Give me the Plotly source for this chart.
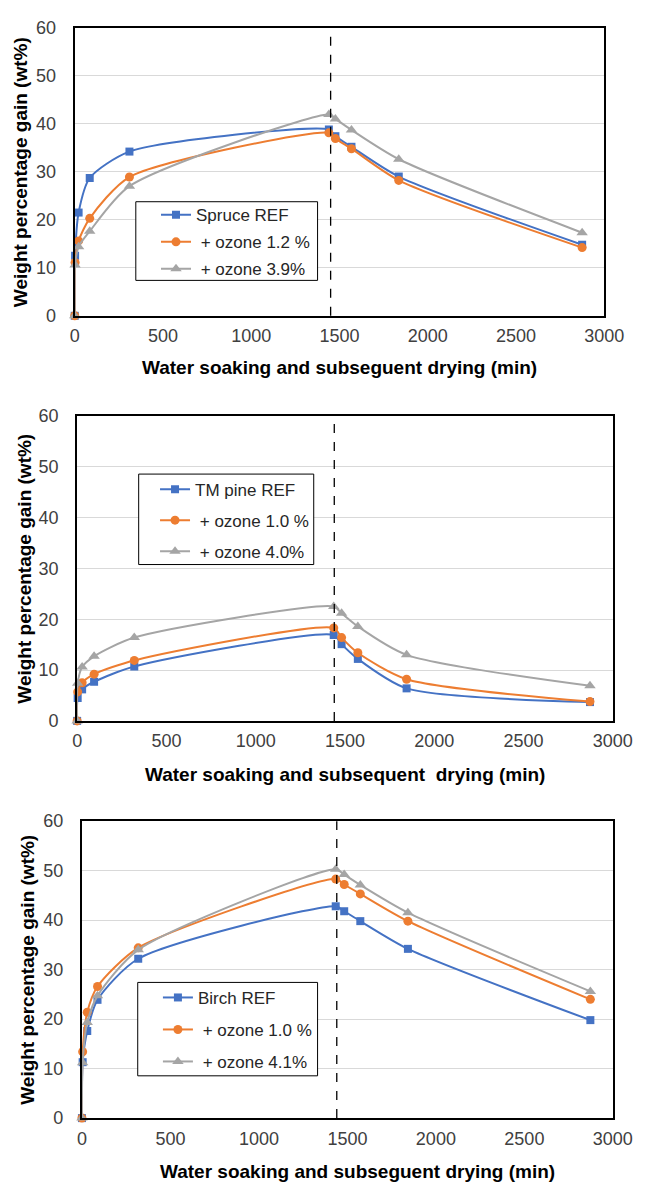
import plotly.graph_objects as go

W, H = 654, 1193

# ---------------- data ----------------
t_spruce = [0, 2, 22, 85, 310, 1440, 1477, 1568, 1836, 2875]
spruce_ref = [0, 12.5, 21.5, 28.7, 34.2, 38.8, 37.4, 35.2, 29.0, 14.8]
spruce_oz12 = [0, 11.1, 15.6, 20.3, 28.9, 38.1, 36.9, 34.8, 28.2, 14.2]
spruce_oz39 = [0, 10.6, 14.4, 17.6, 27.0, 41.9, 41.0, 38.7, 32.6, 17.3]

t_pine = [0, 3, 28, 95, 320, 1437, 1481, 1572, 1845, 2872]
pine_ref = [0, 4.5, 6.2, 7.7, 10.7, 16.9, 15.1, 12.2, 6.4, 3.7]
pine_oz10 = [0, 5.7, 7.5, 9.2, 11.9, 18.3, 16.4, 13.4, 8.2, 3.8]
pine_oz40 = [0, 7.4, 10.6, 12.7, 16.4, 22.5, 21.2, 18.6, 13.0, 6.9]

t_birch = [0, 4, 30, 88, 318, 1434, 1482, 1573, 1842, 2873]
birch_ref = [0, 11.3, 17.6, 23.9, 32.2, 42.8, 41.8, 39.8, 34.2, 19.8]
birch_oz10 = [0, 13.4, 21.4, 26.6, 34.4, 48.3, 47.2, 45.3, 39.8, 24.0]
birch_oz41 = [0, 11.2, 19.3, 24.7, 34.0, 50.3, 49.2, 47.1, 41.5, 25.6]

names_spruce = ["Spruce REF", "\u00a0+ ozone 1.2 %", "\u00a0+ ozone 3.9%"]
names_pine = ["TM pine REF", "\u00a0+ ozone 1.0 %", "\u00a0+ ozone 4.0%"]
names_birch = ["Birch REF", "\u00a0+ ozone 1.0 %", "\u00a0+ ozone 4.1%"]

x_titles = ["Water soaking and subseguent drying (min)",
            "Water soaking and subsequent\u00a0 drying (min)",
            "Water soaking and subseguent drying (min)"]
y_title = "Weight percentage gain (wt%)"
soak_end = [1450, 1440, 1440]

x_ticks = [0, 500, 1000, 1500, 2000, 2500, 3000]
y_ticks = [0, 10, 20, 30, 40, 50, 60]

# ---------------- style ----------------
colors = ["#4472C4", "#ED7D31", "#A5A5A5"]
symbols = ["square", "circle", "triangle-up"]
msizes = [8, 9, 10]
FONT = "Liberation Sans, Arial, sans-serif"
TXT = "#404040"

# panel boxes in pixels: (left, right, top, bottom)
boxes = [(72.5, 623, 18, 311), (75, 632, 413, 723), (80, 632, 825, 1127)]
# legend frame boxes (left, right, top, bottom) and first-row centre / spacing
leg_boxes = [(136, 325, 195, 275), (139, 321, 472, 564), (138, 325, 989, 1084)]
leg_row1 = [208, 487, 1004]
leg_step = [27, 31, 32]
leg_textx = [197, 196, 199]
xtitle_pos = [(348, 364), (354, 778), (366, 1181)]
ytitle_x = [16, 20, 24]


def px(x):
    return x / W


def py(y):
    return 1 - y / H


panels = [
    (t_spruce, [spruce_ref, spruce_oz12, spruce_oz39], names_spruce),
    (t_pine, [pine_ref, pine_oz10, pine_oz40], names_pine),
    (t_birch, [birch_ref, birch_oz10, birch_oz41], names_birch),
]

fig = go.Figure()
annotations = []
shapes = []
layout = {}
LEG_FS = 17
item_h = LEG_FS * 1.3 + 3

for i, (t, series, names) in enumerate(panels):
    k = "" if i == 0 else str(i + 1)
    L, R, T, B = boxes[i]
    lg = "legend" + k
    for j, (vals, nm) in enumerate(zip(series, names)):
        fig.add_trace(go.Scatter(
            x=t, y=vals, name=nm, mode="lines+markers",
            xaxis="x" + k, yaxis="y" + k, legend=lg,
            legendgroup=f"g{i}{j}", cliponaxis=False,
            line=dict(color=colors[j], width=2, shape="spline", smoothing=0.7),
            marker=dict(color=colors[j], symbol=symbols[j], size=msizes[j]),
        ))
    layout["xaxis" + k] = dict(
        domain=[px(L), px(R)], anchor="y" + k, range=[0, 3000],
        tickvals=x_ticks, showgrid=False, zeroline=False,
        showline=True, mirror=True, linecolor="black", linewidth=2,
        ticks="", ticklabelstandoff=3,
        tickfont=dict(family=FONT, size=18, color=TXT),
    )
    layout["yaxis" + k] = dict(
        domain=[py(B), py(T)], anchor="x" + k, range=[0, 60],
        tickvals=y_ticks, showgrid=True, gridcolor="#D9D9D9", gridwidth=1,
        zeroline=False, showline=True, mirror=True, linecolor="black",
        linewidth=2, ticks="", ticklabelstandoff=13,
        tickfont=dict(family=FONT, size=18, color=TXT),
    )
    bl, br, bt, bb = leg_boxes[i]
    shapes.append(dict(type="rect", xref="paper", yref="paper",
                       x0=px(bl), x1=px(br), y0=py(bb), y1=py(bt),
                       fillcolor="white", line=dict(color="black", width=1),
                       layer="above"))
    layout[lg] = dict(
        x=px(leg_textx[i] - 40), y=py(leg_row1[i] - 5 - item_h / 2),
        xanchor="left", yanchor="top",
        bgcolor="rgba(0,0,0,0)", borderwidth=0,
        font=dict(family=FONT, size=LEG_FS, color="#262626"),
        tracegroupgap=leg_step[i] - item_h, traceorder="grouped",
    )
    shapes.append(dict(type="line", xref="x" + k, yref=f"y{k} domain",
                       x0=soak_end[i], x1=soak_end[i], y0=0, y1=1,
                       line=dict(color="black", width=1.3, dash="dash")))
    tx, ty = xtitle_pos[i]
    annotations.append(dict(
        text=f"<b>{x_titles[i]}</b>", xref="paper", yref="paper",
        x=px(tx), y=py(ty), xanchor="center",
        yanchor="middle", showarrow=False,
        font=dict(family=FONT, size=19, color="black")))
    annotations.append(dict(
        text=f"<b>{y_title}</b>", xref="paper", yref="paper",
        x=px(ytitle_x[i]), y=py((T + B) / 2), xanchor="center",
        yanchor="middle", showarrow=False, textangle=-90,
        font=dict(family=FONT, size=19, color="black")))

fig.update_layout(
    width=W, height=H, margin=dict(l=0, r=0, t=0, b=0),
    paper_bgcolor="white", plot_bgcolor="white",
    annotations=annotations, shapes=shapes, **layout,
)

fig.write_html("out.html")
